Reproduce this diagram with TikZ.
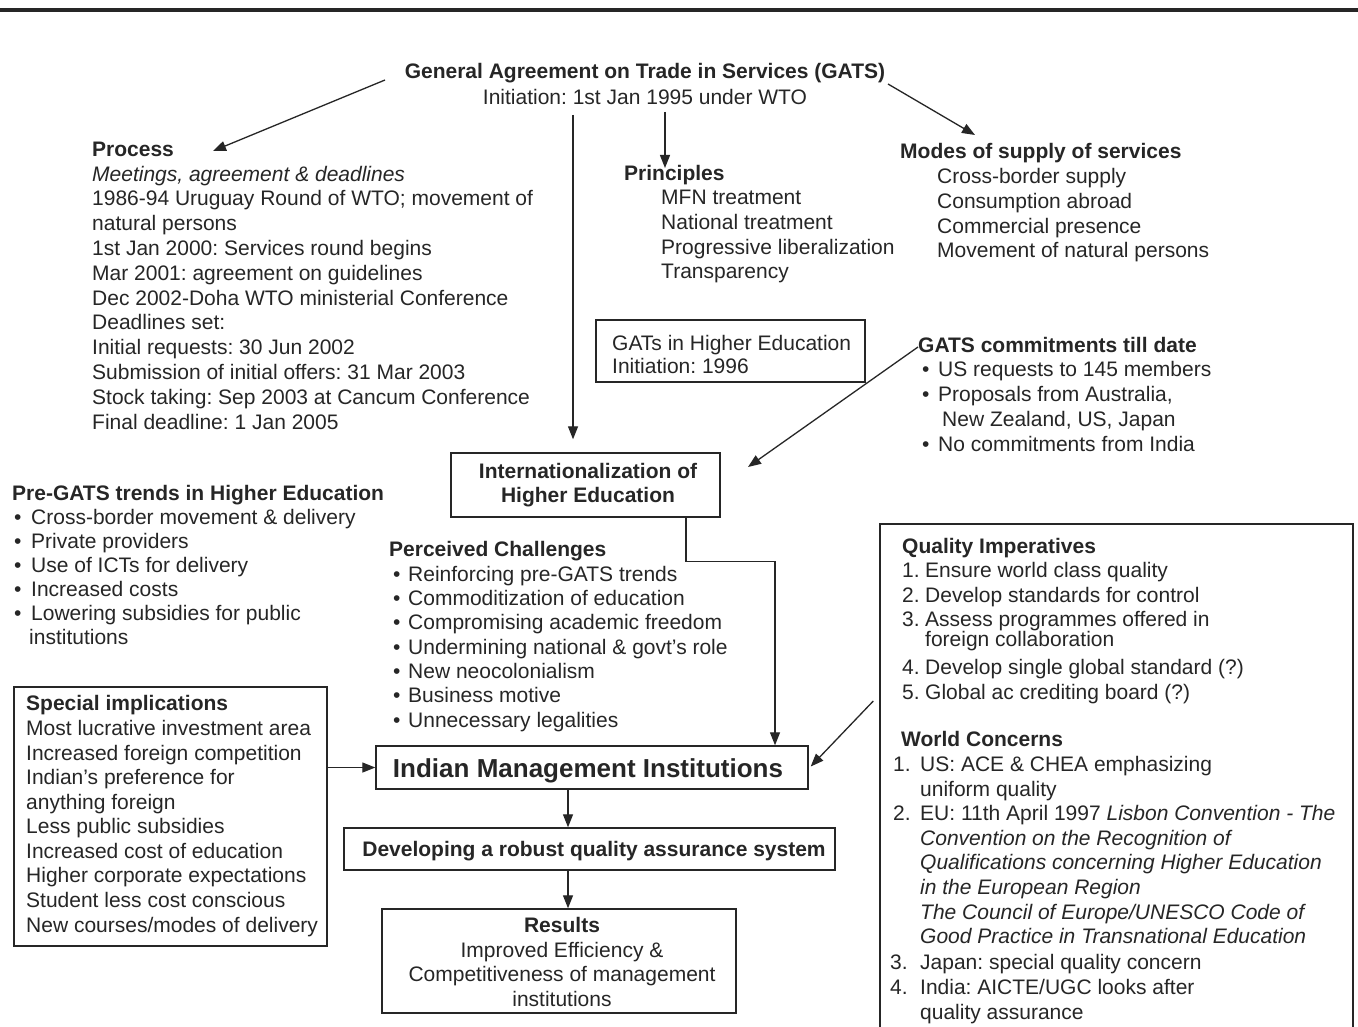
\documentclass[tikz,border=0pt]{standalone}
\usepackage{fontspec}
\setmainfont{Liberation Sans}
\usetikzlibrary{arrows.meta}
\definecolor{ink}{RGB}{38,38,38}
\newcommand\fs{\fontsize{21}{24.7}\selectfont}
\newcommand\bul[1]{\makebox[#1][l]{\textbullet}}
\newcommand\num[2]{\makebox[#1][l]{#2}}
\frenchspacing

\begin{document}
% Multi-line text nodes are placed by the baseline of their last line.
\begin{tikzpicture}[x=1pt,y=-1pt,
  txt/.style={anchor=base west, inner sep=0pt, align=left, text=ink, font=\fs},
  ctxt/.style={anchor=base, inner sep=0pt, align=center, text=ink, font=\fs},
  frame/.style={draw=ink, line width=1.4pt, inner sep=0pt, rectangle},
  arr/.style={draw=ink, line width=1.3pt, -{Triangle[length=13pt,width=10pt]}},
]
\useasboundingbox (0,0) rectangle (1358,1027);
\clip (0,0) rectangle (1358,1027);
\fill[white] (0,0) rectangle (1358,1027);

% heading rule
\draw[line width=4pt, draw=ink] (0,10) -- (1358,10);

% ---------- top: GATS ----------
\node[ctxt, font=\fontsize{21}{26}\selectfont] (gats) at (645,105) {\textbf{General Agreement on Trade in Services (GATS)}\\Initiation: 1st Jan 1995 under WTO};

\node[txt, font=\fontsize{21}{24.8}\selectfont] (proc) at (92,429) {\textbf{Process}\\
\textit{Meetings, agreement \& deadlines}\\
1986-94 Uruguay Round of WTO; movement of\\
natural persons\\
1st Jan 2000: Services round begins\\
Mar 2001: agreement on guidelines\\
Dec 2002-Doha WTO ministerial Conference\\
Deadlines set:\\
Initial requests: 30 Jun 2002\\
Submission of initial offers: 31 Mar 2003\\
Stock taking: Sep 2003 at Cancum Conference\\
Final deadline: 1 Jan 2005};

\node[txt, font=\fontsize{21}{24.75}\selectfont] (princ) at (624,279) {\textbf{Principles}\\
\hspace*{37pt}MFN treatment\\
\hspace*{37pt}National treatment\\
\hspace*{37pt}Progressive liberalization\\
\hspace*{37pt}Transparency};

\node[txt, font=\fontsize{21}{24.75}\selectfont] (modes) at (900,258) {\textbf{Modes of supply of services}\\
\hspace*{37pt}Cross-border supply\\
\hspace*{37pt}Consumption abroad\\
\hspace*{37pt}Commercial presence\\
\hspace*{37pt}Movement of natural persons};

% ---------- middle band ----------
\node[frame, minimum width=269pt, minimum height=62pt] (gatshe) at (730.5,351) {};
\node[txt, font=\fontsize{21}{23}\selectfont] (gatshetxt) at (612,373) {GATs in Higher Education\\Initiation: 1996};

\node[txt, font=\fontsize{21}{24.75}\selectfont] (commit) at (918,451) {\textbf{GATS commitments till date}\\
\hspace*{4pt}\bul{16pt}US requests to 145 members\\
\hspace*{4pt}\bul{16pt}Proposals from Australia,\\
\hspace*{24pt}New Zealand, US, Japan\\
\hspace*{4pt}\bul{16pt}No commitments from India};

\node[frame, minimum width=269pt, minimum height=64pt] (intl) at (585.5,485) {};
\node[ctxt, font=\fontsize{21}{24}\selectfont\bfseries] (intltxt) at (588,502) {Internationalization of\\Higher Education};

\node[txt, font=\fontsize{21}{24}\selectfont] (pregats) at (12,644) {\textbf{Pre-GATS trends in Higher Education}\\
\hspace*{2pt}\bul{17pt}Cross-border movement \& delivery\\
\hspace*{2pt}\bul{17pt}Private providers\\
\hspace*{2pt}\bul{17pt}Use of ICTs for delivery\\
\hspace*{2pt}\bul{17pt}Increased costs\\
\hspace*{2pt}\bul{17pt}Lowering subsidies for public\\
\hspace*{17pt}institutions};

\node[txt, font=\fontsize{21}{24.3}\selectfont] (chall) at (389,727) {\textbf{Perceived Challenges}\\
\hspace*{4pt}\bul{15pt}Reinforcing pre-GATS trends\\
\hspace*{4pt}\bul{15pt}Commoditization of education\\
\hspace*{4pt}\bul{15pt}Compromising academic freedom\\
\hspace*{4pt}\bul{15pt}Undermining national \& govt's role\\
\hspace*{4pt}\bul{15pt}New neocolonialism\\
\hspace*{4pt}\bul{15pt}Business motive\\
\hspace*{4pt}\bul{15pt}Unnecessary legalities};

% ---------- lower left ----------
\node[frame, minimum width=313pt, minimum height=259pt] (special) at (170.5,816.5) {};
\node[txt, font=\fontsize{21}{24.56}\selectfont] (spectxt) at (26,932) {\textbf{Special implications}\\
Most lucrative investment area\\
Increased foreign competition\\
Indian’s preference for\\
anything foreign\\
Less public subsidies\\
Increased cost of education\\
Higher corporate expectations\\
Student less cost conscious\\
New courses/modes of delivery};

% ---------- central chain ----------
\node[frame, minimum width=432pt, minimum height=43pt] (imi) at (592,767.5) {};
\node[ctxt, font=\fontsize{26}{30}\selectfont\bfseries] (imitxt) at (588,777) {Indian Management Institutions};

\node[frame, minimum width=491pt, minimum height=42pt] (dev) at (589.5,849) {};
\node[ctxt, font=\fs\bfseries] (devtxt) at (594,856) {Developing a robust quality assurance system};

\node[frame, minimum width=354pt, minimum height=104pt] (res) at (559,961) {};
\node[ctxt, font=\fontsize{21}{24.5}\selectfont] (restxt) at (562,1006) {\textbf{Results}\\Improved Efficiency \&\\Competitiveness of management\\institutions};

% ---------- right panel ----------
\node[frame, minimum width=473pt, minimum height=520pt] (qual) at (1116.5,784) {};
\node[txt, font=\fontsize{21}{24.5}\selectfont] (qualtxt) at (902,699) {\textbf{Quality Imperatives}\\
\num{23pt}{1.}Ensure world class quality\\
\num{23pt}{2.}Develop standards for control\\
\num{23pt}{3.}Assess programmes offered in\\[-4.5pt]
\hspace*{23pt}foreign collaboration\\[3.5pt]
\num{23pt}{4.}Develop single global standard (?)\\
\num{23pt}{5.}Global ac crediting board (?)};

\node[txt, font=\fontsize{21}{24.6}\selectfont] (world) at (901,1019) {\textbf{World Concerns}\\
\hspace*{-8pt}\num{27pt}{1.}US: ACE \& CHEA emphasizing\\
\hspace*{19pt}uniform quality\\
\hspace*{-8pt}\num{27pt}{2.}EU: 11th April 1997 \textit{Lisbon Convention - The}\\
\hspace*{19pt}\textit{Convention on the Recognition of}\\
\hspace*{19pt}\textit{Qualifications concerning Higher Education}\\
\hspace*{19pt}\textit{in the European Region}\\
\hspace*{19pt}\textit{The Council of Europe/UNESCO Code of}\\
\hspace*{19pt}\textit{Good Practice in Transnational Education}\\[1.5pt]
\hspace*{-11pt}\num{30pt}{3.}Japan: special quality concern\\
\hspace*{-11pt}\num{30pt}{4.}India: AICTE/UGC looks after\\
\hspace*{19pt}quality assurance};

% ---------- connectors ----------
\coordinate (g1) at (385,80);
\coordinate (g1e) at (213,151);
\coordinate (g2) at (888,84);
\coordinate (g2e) at (975,135);
\coordinate (g3) at (573,115);
\coordinate (g4) at (665,112);
\coordinate (g4e) at (665,168);
\coordinate (c5) at (918,347);
\coordinate (c5e) at (748,467);

\draw[arr] (g1) -- (g1e);
\draw[arr] (g2) -- (g2e);
\draw[arr, shorten >=13pt] (g3) -- (g3 |- intl.north);
\draw[arr] (g4) -- (g4e);
\draw[arr] (c5) -- (c5e);
\draw[arr] ([xshift=100.5pt]intl.south) -- ++(0,44) -| ([xshift=183pt]imi.north);
\draw[arr] (special.east |- imi.west) -- (imi.west);
\draw[arr] ([shift={(-6,-83)}]qual.west) -- ([shift={(2,-1)}]imi.east);
\draw[arr] ([xshift=-24pt]imi.south) -- ([xshift=-24pt]imi.south |- dev.north);
\draw[arr] ([xshift=-21.5pt]dev.south) -- ([xshift=-21.5pt]dev.south |- res.north);
\end{tikzpicture}
\end{document}
